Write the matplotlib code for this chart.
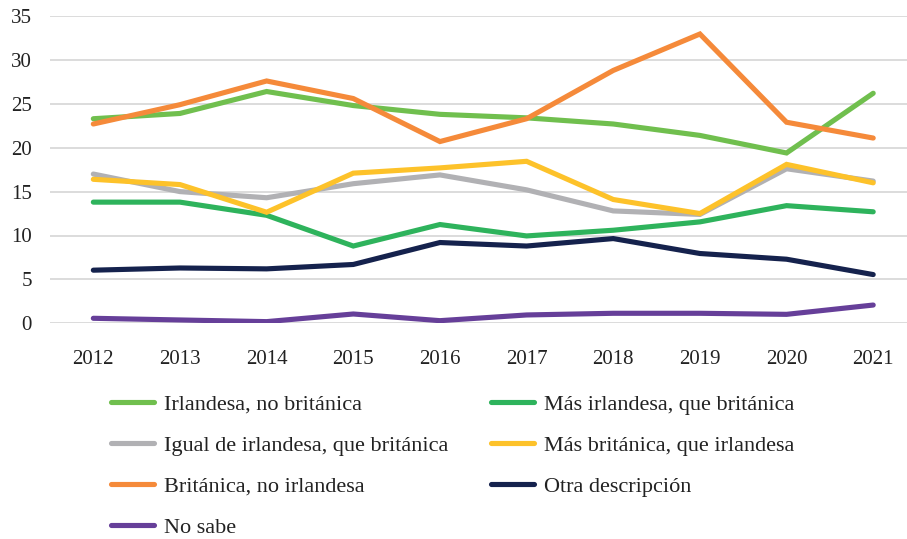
import matplotlib
matplotlib.use("Agg")
from matplotlib import pyplot as plt

anios = ["2012", "2013", "2014", "2015", "2016", "2017", "2018", "2019", "2020", "2021"]

irlandesa_no_brit = [23.3, 23.9, 26.4, 24.8, 23.8, 23.4, 22.7, 21.4, 19.4, 26.2]
mas_irlandesa = [13.8, 13.8, 12.3, 8.8, 11.25, 9.95, 10.6, 11.55, 13.4, 12.7]
igual = [17.0, 15.0, 14.3, 15.9, 16.9, 15.2, 12.8, 12.4, 17.6, 16.2]
mas_britanica = [16.4, 15.8, 12.65, 17.1, 17.7, 18.45, 14.1, 12.5, 18.1, 16.0]
britanica_no_irl = [22.7, 24.9, 27.6, 25.6, 20.7, 23.3, 28.8, 32.95, 22.9, 21.1]
otra = [6.05, 6.3, 6.2, 6.7, 9.2, 8.8, 9.65, 7.95, 7.3, 5.55]
no_sabe = [0.57, 0.38, 0.19, 1.06, 0.3, 0.95, 1.14, 1.14, 1.02, 2.08]

series = [
    ("Irlandesa, no británica", irlandesa_no_brit, "#70bf4e"),
    ("Más irlandesa, que británica", mas_irlandesa, "#2eb35c"),
    ("Igual de irlandesa, que británica", igual, "#b1b1b4"),
    ("Más británica, que irlandesa", mas_britanica, "#fdc22a"),
    ("Británica, no irlandesa", britanica_no_irl, "#f58a3a"),
    ("Otra descripción", otra, "#15224d"),
    ("No sabe", no_sabe, "#663f99"),
]

plt.rcParams["font.family"] = ["Liberation Serif", "DejaVu Serif"]

fig = plt.figure(figsize=(9.07, 5.39), dpi=100)
ax = fig.add_axes([50 / 907, (539 - 323.3) / 539, 1 - 50 / 907, (323.3 - 16) / 539])

x = list(range(len(anios)))
lineas = {}
for nombre, valores, color in series:
    (l,) = ax.plot(x, valores, color=color, lw=3.7, solid_capstyle="round",
                   solid_joinstyle="miter", label=nombre, zorder=3)
    lineas[nombre] = l

ax.set_ylim(0, 35)
ax.set_xlim(-0.5, 9.39)
ax.set_yticks(range(0, 36, 5))
ax.set_xticks(x)
ax.set_xticklabels(anios)
ax.yaxis.grid(True, color="#d9d9d9", lw=1.3)
ax.set_axisbelow(True)
for s in ax.spines.values():
    s.set_visible(False)
ax.tick_params(axis="both", length=0, labelsize=15, colors="#222222")
ax.tick_params(axis="y", pad=13)
ax.tick_params(axis="x", pad=19)

# legend: column-first order to get row layout like the original
orden = ["Irlandesa, no británica", "Igual de irlandesa, que británica",
         "Británica, no irlandesa", "No sabe",
         "Más irlandesa, que británica", "Más británica, que irlandesa",
         "Otra descripción"]
leg = fig.legend([lineas[n] for n in orden], orden, loc="upper left",
                 bbox_to_anchor=(91 / 907, (539 - 374) / 539), ncol=2,
                 frameon=False, fontsize=16, handlelength=1.95,
                 handletextpad=0.45, labelspacing=0.92, columnspacing=1.9)
for t in leg.get_texts():
    t.set_color("#222222")

fig.savefig("out.png", dpi=100)
